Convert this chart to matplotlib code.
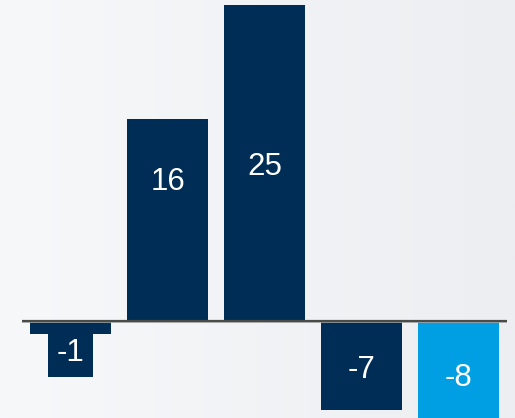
import numpy as np
import matplotlib.pyplot as plt

plt.rcParams['font.family'] = ['Liberation Sans', 'DejaVu Sans']

# data
values = [-1, 16, 25, -7, -8]
labels = ['-1', '16', '25', '-7', '-8']
colors = ['#002d56', '#002d56', '#002d56', '#002d56', '#009fe3']
label_y = [-2.55, 11.0, 12.15, -3.85, -4.5]

fig = plt.figure(figsize=(5.15, 4.18), dpi=100)
ax = fig.add_axes([0, 0, 1, 1])

# background gradient
grad = np.linspace(0, 1, 256).reshape(1, -1)
c0 = np.array([247, 248, 250]) / 255
c1 = np.array([237, 238, 241]) / 255
img = c0 + (c1 - c0) * grad[..., None]
ax.imshow(img, extent=[-0.727, 4.582, -7.67, 25.4], aspect='auto', zorder=0)

x = np.arange(len(values))
ax.bar(x, values, width=0.835, color=colors, zorder=2)

# baseline
ax.hlines(-0.1, -0.5, 4.5, color='#a8aaac', lw=1.2, zorder=3)
ax.hlines(0, -0.5, 4.5, color='#4a4c48', lw=1.6, zorder=3)

for i, (v, lab, ly) in enumerate(zip(values, labels, label_y)):
    if i == 0:
        ax.text(i, ly, lab, color='white', fontsize=22.5, ha='center', va='center', zorder=4,
                bbox=dict(boxstyle='square,pad=0.28', fc=colors[i], ec='none'))
    else:
        ax.text(i, ly, lab, color='white', fontsize=22.5, ha='center', va='center', zorder=4)

ax.set_xlim(-0.727, 4.582)
ax.set_ylim(-7.67, 25.4)
ax.axis('off')

fig.savefig('out.png', dpi=100)
